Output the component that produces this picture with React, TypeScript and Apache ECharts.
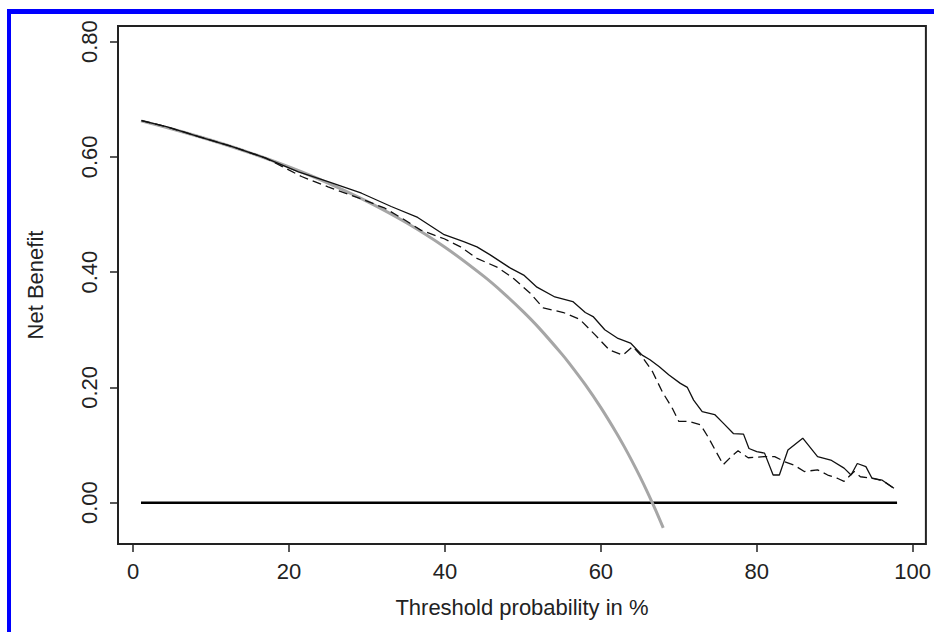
import React, { useEffect, useRef } from "react";
import * as echarts from "echarts";

const xTicks = [0, 20, 40, 60, 80, 100];
const yTicks = [0, 0.2, 0.4, 0.6, 0.8];

const noneX = [1, 98];
const noneY = [0, 0];

const allX = [1, 5, 10, 15, 20, 25, 30, 35, 40, 45, 47.5, 50, 52, 55, 56, 58, 60, 62, 63, 64, 65, 66, 67, 68];
const allY = [0.6626, 0.6484, 0.6289, 0.6071, 0.5825, 0.5547, 0.5229, 0.4862, 0.4433, 0.3927, 0.3638, 0.332, 0.3042, 0.2578, 0.2409, 0.2048, 0.165, 0.1211, 0.0973, 0.0722, 0.0457, 0.0176, -0.0121, -0.0438];

const solidX = [1.07, 4.25, 8.5, 12.7, 17.0, 21.2, 25.0, 29.3, 33.1, 36.5, 39.9, 42.4, 44.1, 45.8, 48.4, 50.1, 51.8, 54.1, 56.4, 58.0, 59.0, 60.5, 62.2, 63.8, 65.3, 66.3, 67.5, 68.7, 70.2, 71.1, 71.9, 73.0, 74.6, 75.7, 77.0, 78.3, 79.0, 80.0, 81.0, 82.1, 82.9, 84.0, 85.9, 87.8, 89.5, 91.2, 92.1, 92.9, 94.0, 94.8, 96.1, 97.6];
const solidY = [0.663, 0.6525, 0.635, 0.618, 0.598, 0.574, 0.557, 0.537, 0.514, 0.495, 0.465, 0.453, 0.444, 0.43, 0.407, 0.395, 0.374, 0.357, 0.349, 0.33, 0.323, 0.3, 0.285, 0.277, 0.256, 0.248, 0.236, 0.222, 0.207, 0.2, 0.178, 0.158, 0.153, 0.138, 0.12, 0.119, 0.094, 0.0885, 0.086, 0.048, 0.048, 0.0915, 0.112, 0.08, 0.074, 0.06, 0.048, 0.068, 0.0625, 0.042, 0.039, 0.025];

const dashedX = [1.07, 4.25, 8.5, 12.7, 17.0, 21.6, 25.0, 29.3, 32.3, 34.8, 36.9, 39.9, 42.0, 44.1, 46.8, 48.8, 50.9, 52.6, 55.2, 57.3, 59.2, 61.1, 62.8, 64.1, 65.3, 66.6, 67.9, 69.2, 70.0, 71.3, 72.8, 73.8, 74.8, 75.7, 76.8, 77.6, 78.9, 81.0, 82.3, 83.6, 84.8, 86.1, 87.8, 89.1, 90.4, 91.2, 92.5, 93.3, 95.0, 96.3, 97.6];
const dashedY = [0.663, 0.6525, 0.635, 0.618, 0.598, 0.566, 0.548, 0.527, 0.511, 0.491, 0.473, 0.458, 0.444, 0.424, 0.408, 0.389, 0.364, 0.338, 0.33, 0.318, 0.292, 0.265, 0.256, 0.271, 0.253, 0.228, 0.192, 0.163, 0.141, 0.141, 0.135, 0.113, 0.088, 0.066, 0.081, 0.09, 0.078, 0.08, 0.08, 0.071, 0.065, 0.054, 0.057, 0.048, 0.042, 0.037, 0.054, 0.045, 0.042, 0.037, 0.025];

const zip = (xs: number[], ys: number[]) => xs.map((x, i) => [x, ys[i]]);

const FONT = "'Liberation Sans', Arial, sans-serif";

export default function App() {
  const ref = useRef<HTMLDivElement>(null);
  useEffect(() => {
    if (!ref.current) return;
    const chart = echarts.init(ref.current, null, { renderer: "svg" });
    chart.setOption({
      animation: false,
      backgroundColor: "#ffffff",
      grid: {
        left: 118,
        top: 26,
        width: 814,
        height: 518,
        show: true,
        borderColor: "#222222",
        borderWidth: 2,
        containLabel: false,
      },
      graphic: [
        { type: "rect", shape: { x: 7, y: 9, width: 927, height: 5 }, style: { fill: "#0000ff" } },
        { type: "rect", shape: { x: 7, y: 9, width: 4, height: 623 }, style: { fill: "#0000ff" } },
      ],
      xAxis: {
        type: "value",
        min: -1.95,
        max: 101.7,
        name: "Threshold probability in %",
        nameLocation: "middle",
        nameGap: 52,
        nameTextStyle: { fontFamily: FONT, fontSize: 22, color: "#222" },
        axisLine: { show: false, onZero: false },
        splitLine: { show: false },
        axisTick: {
          show: true,
          length: 8,
          inside: false,
          customValues: xTicks,
          lineStyle: { color: "#222", width: 1.5 },
        },
        axisLabel: {
          customValues: xTicks,
          margin: 16,
          fontFamily: FONT,
          fontSize: 22,
          color: "#222",
          formatter: (v: number) => String(v),
        },
      },
      yAxis: {
        type: "value",
        min: -0.0717,
        max: 0.8272,
        name: "Net Benefit",
        nameLocation: "middle",
        nameGap: 72,
        nameRotate: 90,
        nameTextStyle: { fontFamily: FONT, fontSize: 22, color: "#222" },
        axisLine: { show: false, onZero: false },
        splitLine: { show: false },
        axisTick: {
          show: true,
          length: 8,
          inside: false,
          customValues: yTicks,
          lineStyle: { color: "#222", width: 1.5 },
        },
        axisLabel: {
          customValues: yTicks,
          rotate: 90,
          margin: 18,
          fontFamily: FONT,
          fontSize: 22,
          color: "#222",
          formatter: (v: number) => v.toFixed(2),
        },
      },
      series: [
        {
          name: "None",
          type: "line",
          data: zip(noneX, noneY),
          showSymbol: false,
          lineStyle: { color: "#000", width: 2.5 },
          z: 2,
        },
        {
          name: "All",
          type: "line",
          data: zip(allX, allY),
          showSymbol: false,
          smooth: 0.3,
          lineStyle: { color: "#a6a6a6", width: 3 },
          z: 3,
        },
        {
          name: "Model solid",
          type: "line",
          data: zip(solidX, solidY),
          showSymbol: false,
          lineStyle: { color: "#111", width: 1.3 },
          z: 4,
        },
        {
          name: "Model dashed",
          type: "line",
          data: zip(dashedX, dashedY),
          showSymbol: false,
          lineStyle: { color: "#111", width: 1.3, type: [9, 5] },
          z: 4,
        },
      ],
    });
    return () => chart.dispose();
  }, []);
  return (
    <div
      ref={ref}
      style={{ position: "fixed", left: 0, top: 0, width: 934, height: 632, background: "#fff" }}
    />
  );
}
